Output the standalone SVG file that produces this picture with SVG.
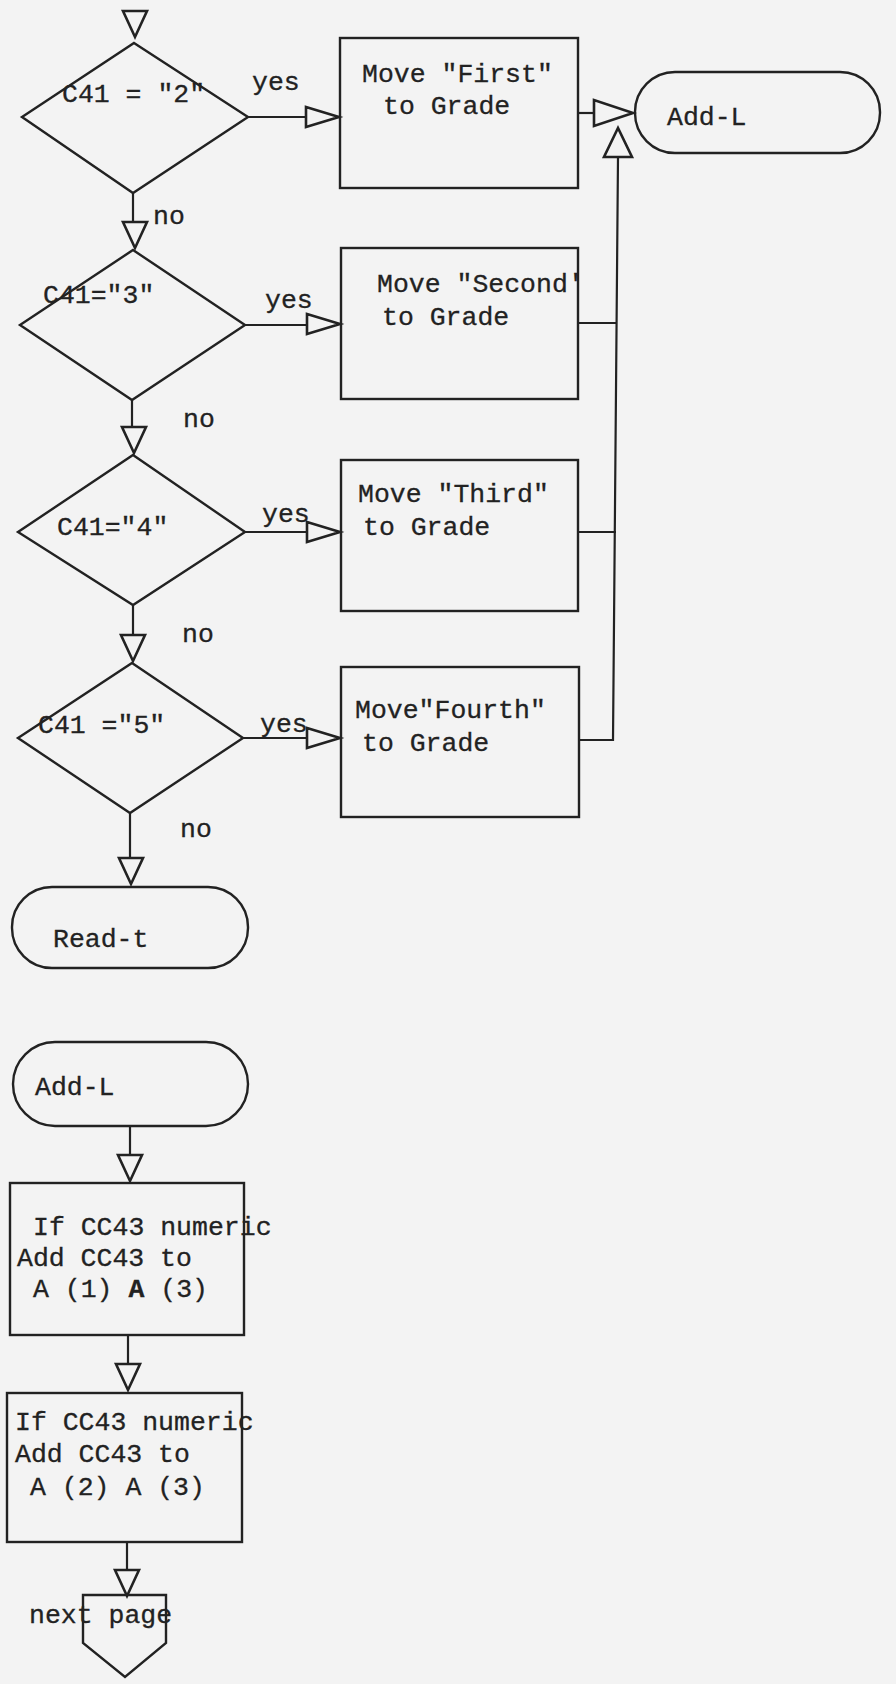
<svg xmlns="http://www.w3.org/2000/svg" width="896" height="1684" viewBox="0 0 896 1684">
<style>
.bg{fill:#f3f3f3}
.shape{fill:none;stroke:#222;stroke-width:2.4;stroke-linejoin:miter}
.ln{fill:none;stroke:#222;stroke-width:2.2}
.arr{fill:#f3f3f3;stroke:#222;stroke-width:2.6;stroke-linejoin:miter}
text{font-family:"Liberation Mono","DejaVu Sans Mono",monospace;font-size:26.5px;fill:#222;stroke:#222;stroke-width:0.3}
.b{font-weight:bold}
</style>
<defs>
<path id="td" d="M-12,0 L12,0 L0,26 Z"/>
<path id="tr" d="M0,-10 L0,10 L33,0 Z"/>
<path id="trl" d="M0,-13 L0,13 L39,0 Z"/>
<path id="tu" d="M-14,29 L14,29 L0,0 Z"/>
</defs>
<rect class="bg" x="0" y="0" width="896" height="1684"/>

<g id="connectors">
  <use href="#td" class="arr" x="135" y="11"/>
  <path class="ln" d="M248,117 L306,117"/>
  <use href="#tr" class="arr" x="306" y="117"/>
  <path class="ln" d="M578,113 L594,113"/>
  <use href="#trl" class="arr" x="594" y="113"/>
  <path class="ln" d="M133,193 L133,222"/>
  <use href="#td" class="arr" x="135" y="222"/>
  <text x="153" y="224">no</text>
  <path class="ln" d="M245,325 L307,325"/>
  <use href="#tr" class="arr" x="307" y="324"/>
  <text x="265" y="308">yes</text>
  <path class="ln" d="M578,323 L617,323"/>
  <path class="ln" d="M132,400 L132,427"/>
  <use href="#td" class="arr" x="134" y="427"/>
  <text x="183" y="427">no</text>
  <path class="ln" d="M245,532 L307,532"/>
  <use href="#tr" class="arr" x="307" y="532"/>
  <text x="262" y="522">yes</text>
  <path class="ln" d="M578,532 L616,532"/>
  <path class="ln" d="M133,605 L133,635"/>
  <use href="#td" class="arr" x="133" y="635"/>
  <text x="182" y="642">no</text>
  <path class="ln" d="M243,738 L307,738"/>
  <use href="#tr" class="arr" x="307" y="738"/>
  <text x="260" y="732">yes</text>
  <path class="ln" d="M579,740 L613,740 L618,157"/>
  <use href="#tu" class="arr" x="618" y="128"/>
  <path class="ln" d="M130,813 L130,858"/>
  <use href="#td" class="arr" x="131" y="858"/>
  <text x="180" y="837">no</text>
  <path class="ln" d="M130,1126 L130,1155"/>
  <use href="#td" class="arr" x="130" y="1155"/>
  <path class="ln" d="M128,1335 L128,1364"/>
  <use href="#td" class="arr" x="128" y="1364"/>
  <path class="ln" d="M127,1542 L127,1570"/>
  <use href="#td" class="arr" x="127" y="1570"/>
</g>

<g id="d1">
  <polygon class="shape" points="134,43 248,117 133,193 22,117"/>
  <text x="62" y="102">C41 = "2"</text>
  <text x="252" y="90">yes</text>
</g>
<g id="box1">
  <rect class="shape" x="340" y="38" width="238" height="150"/>
  <text x="362" y="82">Move "First"</text>
  <text x="383" y="114">to Grade</text>
</g>
<g id="addl1">
  <rect class="shape" x="635" y="72" width="245" height="81" rx="40" ry="40"/>
  <text x="667" y="125">Add-L</text>
</g>
<g id="d2">
  <polygon class="shape" points="133,250 245,325 132,400 20,325"/>
  <text x="43" y="303">C41="3"</text>
</g>
<g id="box2">
  <rect class="shape" x="341" y="248" width="237" height="151"/>
  <text x="377" y="292">Move "Second'</text>
  <text x="382" y="325">to Grade</text>
</g>
<g id="d3">
  <polygon class="shape" points="133,455 245,532 133,605 18,532"/>
  <text x="57" y="535">C41="4"</text>
</g>
<g id="box3">
  <rect class="shape" x="341" y="460" width="237" height="151"/>
  <text x="358" y="502">Move "Third"</text>
  <text x="363" y="535">to Grade</text>
</g>
<g id="d4">
  <polygon class="shape" points="132,663 243,738 130,813 18,738"/>
  <text x="38" y="733">C41 ="5"</text>
</g>
<g id="box4">
  <rect class="shape" x="341" y="667" width="238" height="150"/>
  <text x="355" y="718">Move"Fourth"</text>
  <text x="362" y="751">to Grade</text>
</g>
<g id="readt">
  <rect class="shape" x="12" y="887" width="236" height="81" rx="40" ry="40"/>
  <text x="53" y="947">Read-t</text>
</g>
<g id="addl2">
  <rect class="shape" x="13" y="1042" width="235" height="84" rx="42" ry="42"/>
  <text x="35" y="1095">Add-L</text>
</g>
<g id="if1">
  <rect class="shape" x="10" y="1183" width="234" height="152"/>
  <text x="33" y="1235">If CC43 numeric</text>
  <text x="17" y="1266">Add CC43 to</text>
  <text x="33" y="1297">A (1) <tspan class="b">A</tspan> (3)</text>
</g>
<g id="if2">
  <rect class="shape" x="7" y="1393" width="235" height="149"/>
  <text x="15" y="1430">If CC43 numeric</text>
  <text x="15" y="1462">Add CC43 to</text>
  <text x="30" y="1495">A (2) A (3)</text>
</g>
<g id="nextpage">
  <polygon class="shape" points="83,1595 166,1595 166,1643 125,1677 83,1643"/>
  <text x="29" y="1623">next page</text>
</g>
</svg>
